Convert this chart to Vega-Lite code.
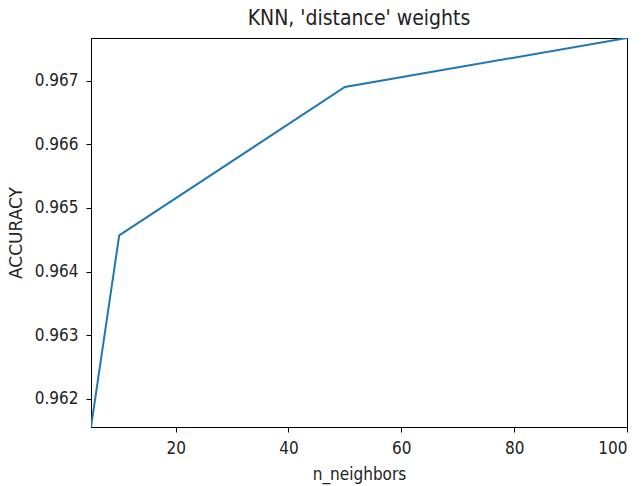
{
  "$schema": "https://vega.github.io/schema/vega-lite/v6.json",
  "autosize": "none",
  "width": 536,
  "height": 389,
  "padding": {"left": 91, "top": 38, "right": 16, "bottom": 59},
  "background": "white",
  "config": {
    "view": {"stroke": "black", "strokeWidth": 1},
    "font": "DejaVu Sans Condensed",
    "axis": {
      "grid": false,
      "domainColor": "black",
      "tickColor": "black",
      "tickSize": 5,
      "labelColor": "#222",
      "labelFontSize": 17,
      "labelFont": "DejaVu Sans Condensed",
      "titleFont": "DejaVu Sans Condensed",
      "titleFontWeight": "normal",
      "titleFontSize": 17,
      "titleColor": "#222",
      "labelPadding": 8
    }
  },
  "title": {"text": "KNN, 'distance' weights", "fontSize": 21, "fontWeight": "normal", "font": "DejaVu Sans Condensed", "color": "#222", "offset": 9},
  "data": {
    "values": [
      {"n_neighbors": 5, "accuracy": 0.96156},
      {"n_neighbors": 10, "accuracy": 0.96457},
      {"n_neighbors": 50, "accuracy": 0.96690},
      {"n_neighbors": 100, "accuracy": 0.96767}
    ]
  },
  "mark": {"type": "line", "color": "#1f77b4", "strokeWidth": 2, "clip": true},
  "encoding": {
    "x": {
      "field": "n_neighbors", "type": "quantitative",
      "scale": {"domain": [5, 100], "nice": false, "zero": false},
      "axis": {"values": [20, 40, 60, 80, 100], "title": "n_neighbors", "titlePadding": 10}
    },
    "y": {
      "field": "accuracy", "type": "quantitative",
      "scale": {"domain": [0.96156, 0.96767], "nice": false, "zero": false},
      "axis": {"values": [0.962, 0.963, 0.964, 0.965, 0.966, 0.967], "format": ".3f", "title": "ACCURACY", "titleFont": "DejaVu Sans", "titlePadding": 9}
    }
  }
}
